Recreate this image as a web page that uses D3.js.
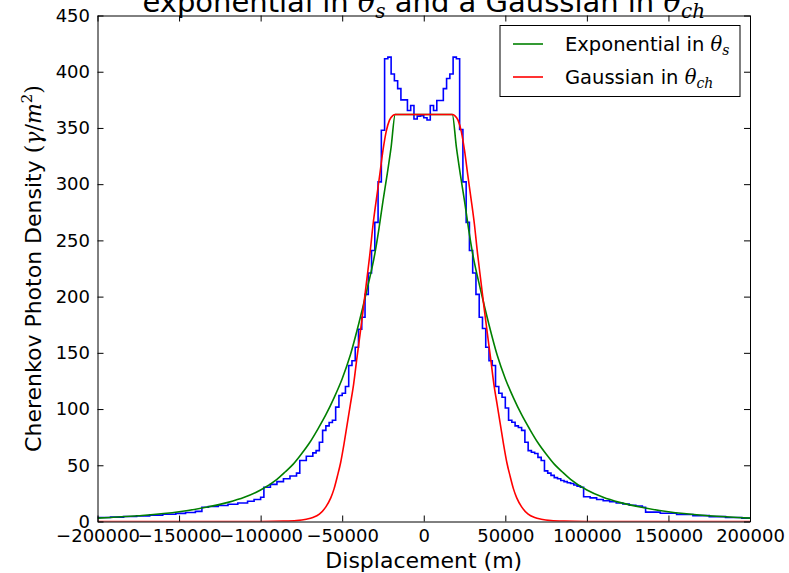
<!DOCTYPE html>
<html>
<head>
<meta charset="utf-8">
<script src="https://cdn.jsdelivr.net/npm/d3@7"></script>
<style>
  body { margin: 0; background: #fff; }
  svg text { font-family: "DejaVu Sans", sans-serif; fill: #000; }
  .math { font-family: "DejaVu Serif", serif; font-style: italic; }
  .axis path, .axis line { stroke: #000; stroke-width: 1; }
</style>
</head>
<body>
<svg id="chart" width="789" height="573"></svg>
<script>
// Histogram of simulated photon density: left edge of each step (m) and its height
const histX = [-200000, -192000, -184000, -176000, -168000, -160000, -152000, -146000, -140000, -136000,
  -132000, -126000, -120000, -114000, -108000, -104000, -100000, -98000, -94000, -90000,
  -86000, -82000, -78000, -76000, -72000, -68000, -66000, -64000, -62000, -60000,
  -58000, -56000, -54000, -52000, -50000, -48000, -46000, -44000, -42000, -40000,
  -38000, -36000, -34000, -32000, -30000, -28000, -26000, -24000, -22000, -20000,
  -18000, -16000, -14000, -12000, -10000, -8000, -6000, -4000, -2000, 0,
  2000, 4000, 6000, 8000, 10000, 12000, 14000, 16000, 18000, 20000,
  22000, 24000, 26000, 28000, 30000, 32000, 34000, 36000, 38000, 40000,
  42000, 44000, 46000, 48000, 50000, 52000, 54000, 56000, 58000, 60000,
  62000, 64000, 66000, 68000, 70000, 72000, 74000, 76000, 78000, 80000,
  82000, 84000, 86000, 88000, 90000, 92000, 94000, 96000, 98000, 102000,
  106000, 110000, 114000, 118000, 122000, 126000, 130000, 134000, 136000, 145000,
  155000, 165000, 175000, 185000, 195000, 200000];
const histY = [3.5, 3.9, 4.4, 5.0, 5.7, 6.4, 7.2, 8.0, 9.0, 12.7,
  13.3, 14.2, 15.3, 16.5, 18.0, 19.5, 21.5, 30.5, 33.0, 35.5,
  38.0, 40.5, 43.0, 54.2, 58.0, 61.0, 63.0, 70.5, 81.0, 85.0,
  88.0, 90.0, 101.7, 112.0, 114.0, 120.0, 138.7, 143.0, 155.0, 171.0,
  181.7, 202.0, 221.0, 241.0, 266.0, 302.0, 348.0, 411.5, 413.0, 398.0,
  392.0, 385.0, 375.0, 375.0, 365.5, 370.0, 358.0, 360.5, 361.0, 359.0,
  357.0, 370.0, 365.5, 374.4, 374.4, 385.0, 394.0, 398.0, 413.0, 411.5,
  348.6, 302.0, 266.0, 241.0, 221.0, 202.0, 181.7, 171.6, 155.0, 143.0,
  138.7, 120.0, 114.0, 110.5, 101.0, 90.0, 88.3, 85.0, 83.6, 81.0,
  70.5, 63.0, 61.6, 60.5, 57.0, 54.2, 45.0, 43.0, 41.0, 39.0,
  38.0, 36.5, 35.5, 34.5, 33.8, 32.5, 31.5, 30.5, 22.0, 21.0,
  19.5, 18.5, 17.5, 16.5, 15.5, 14.5, 13.8, 12.7, 8.3, 7.3,
  6.2, 5.2, 4.3, 3.5, 3.0, 3.0];

// Exponential-in-theta_s model
const greenX = [-200000, -175000, -150000, -135000, -120000, -110000, -100000, -90000, -85000, -80000,
  -75000, -70000, -65000, -60000, -55000, -50000, -45000, -40000, -35000, -30000,
  -27500, -25000, -22500, -20000, -17500, 17500, 20000, 22500, 25000, 27500,
  30000, 35000, 40000, 45000, 50000, 55000, 60000, 65000, 70000, 75000,
  80000, 85000, 90000, 100000, 110000, 120000, 135000, 150000, 175000, 200000];
const greenY = [3.0, 5.1, 8.6, 12.3, 17.0, 21.5, 28.0, 37.5, 44.0, 51.0,
  60.0, 70.0, 82.0, 95.0, 110.0, 127.0, 148.0, 175.0, 205.0, 238.0,
  260.0, 285.0, 308.0, 333.0, 362.0, 362.0, 333.0, 308.0, 285.0, 260.0,
  238.0, 205.0, 175.0, 148.0, 127.0, 110.0, 95.0, 82.0, 70.0, 60.0,
  51.0, 44.0, 37.5, 28.0, 21.5, 17.0, 12.3, 8.6, 5.1, 3.0];

// Gaussian-in-theta_ch model
const redX = [-200000, -120000, -100000, -86000, -78000, -72000, -68000, -64000, -60000, -57000,
  -55000, -53000, -51000, -49000, -47000, -45000, -43000, -41000, -39000, -37000,
  -35000, -33000, -31000, -29000, -27000, -25000, -23000, -21000, -19000, -17500,
  17500, 19000, 21000, 23000, 25000, 27000, 29000, 31000, 33000, 35000,
  37000, 39000, 41000, 43000, 45000, 47000, 49000, 51000, 53000, 55000,
  57000, 60000, 64000, 68000, 72000, 78000, 86000, 100000, 120000, 200000];
const redY = [0, 0, 0.05, 0.3, 0.8, 2, 3.5, 6.5, 13, 21,
  29, 40, 52, 68, 86, 104, 122, 145, 167, 190,
  214, 238, 265, 287, 308, 330, 347, 357, 361, 362,
  362, 361, 357, 347, 330, 308, 287, 265, 238, 214,
  190, 167, 145, 122, 104, 86, 68, 52, 40, 29,
  21, 13, 6.5, 3.5, 2, 0.8, 0.3, 0.05, 0, 0];

const xTicks = [-200000, -150000, -100000, -50000, 0, 50000, 100000, 150000, 200000];
const yTicks = [0, 50, 100, 150, 200, 250, 300, 350, 400, 450];

const margin = { top: 15.5, right: 39, bottom: 51.5, left: 97.5 };
const W = 789, H = 573;
const width = W - margin.left - margin.right;
const height = H - margin.top - margin.bottom;

const svg = d3.select('#chart');
const chart = svg.append('g')
  .attr('transform', `translate(${margin.left},${margin.top})`);

const xScale = d3.scaleLinear().domain([-200000, 200000]).range([0, width]);
const yScale = d3.scaleLinear().domain([0, 450]).range([height, 0]);

chart.append('defs').append('clipPath').attr('id', 'plotclip')
  .append('rect').attr('width', width).attr('height', height);

const zip = (xs, ys) => xs.map((x, i) => [x, ys[i]]);

const line = d3.line()
  .x(d => xScale(d[0]))
  .y(d => yScale(d[1]));

const plot = chart.append('g').attr('clip-path', 'url(#plotclip)');

plot.append('path')
  .datum(zip(histX, histY))
  .attr('fill', 'none')
  .attr('stroke', '#0000ff')
  .attr('stroke-width', 1.6)
  .attr('d', line.curve(d3.curveStepAfter));

plot.append('path')
  .datum(zip(greenX, greenY))
  .attr('fill', 'none')
  .attr('stroke', '#008000')
  .attr('stroke-width', 1.6)
  .attr('d', line.curve(d3.curveMonotoneX));

plot.append('path')
  .datum(zip(redX, redY))
  .attr('fill', 'none')
  .attr('stroke', '#ff0000')
  .attr('stroke-width', 1.6)
  .attr('d', line.curve(d3.curveMonotoneX));

// Axes, ticks pointing inward on all four sides
const tick = 6;
const xAxis = d3.axisBottom(xScale).tickValues(xTicks).tickSizeInner(-tick).tickSizeOuter(0).tickPadding(8).tickFormat(d3.format('d'));
const yAxis = d3.axisLeft(yScale).tickValues(yTicks).tickSizeInner(-tick).tickSizeOuter(0).tickPadding(7.5);

chart.append('g').attr('class', 'axis')
  .attr('transform', `translate(0,${height})`).call(xAxis);
chart.append('g').attr('class', 'axis').call(yAxis);
chart.append('g').attr('class', 'axis')
  .call(d3.axisTop(xScale).tickValues(xTicks).tickSizeInner(-tick).tickSizeOuter(0).tickFormat(''));
chart.append('g').attr('class', 'axis')
  .attr('transform', `translate(${width},0)`)
  .call(d3.axisRight(yScale).tickValues(yTicks).tickSizeInner(-tick).tickSizeOuter(0).tickFormat(''));

chart.selectAll('.axis text')
  .style('font-size', '18px')
  .style('font-family', '"DejaVu Sans", sans-serif')
  .attr('fill', '#000');

// Title (only its lower part fits the image)
const title = svg.append('text')
  .attr('x', margin.left + width / 2)
  .attr('y', 12)
  .attr('text-anchor', 'middle')
  .style('font-size', '29px');
title.append('tspan').text('exponential in ');
title.append('tspan').attr('class', 'math').text('θ');
title.append('tspan').attr('class', 'math').attr('dy', 6).style('font-size', '20px').text('s');
title.append('tspan').attr('dy', -6).text(' and a Gaussian in ');
title.append('tspan').attr('class', 'math').text('θ');
title.append('tspan').attr('class', 'math').attr('dy', 6).style('font-size', '20px').text('ch');

// Axis titles
svg.append('text')
  .attr('x', margin.left + width / 2)
  .attr('y', 568)
  .attr('text-anchor', 'middle')
  .style('font-size', '22px')
  .text('Displacement (m)');

const yTitle = svg.append('text')
  .attr('transform', `translate(41,${margin.top + height / 2}) rotate(-90)`)
  .attr('text-anchor', 'middle')
  .style('font-size', '22px');
yTitle.append('tspan').text('Cherenkov Photon Density ');
yTitle.append('tspan').style('font-family', '"DejaVu Serif", serif').text('(');
yTitle.append('tspan').attr('class', 'math').text('γ');
yTitle.append('tspan').style('font-family', '"DejaVu Serif", serif').text('/');
yTitle.append('tspan').attr('class', 'math').text('m');
yTitle.append('tspan').style('font-family', '"DejaVu Serif", serif').style('font-size', '15px').attr('dy', -9).text('2');
yTitle.append('tspan').style('font-family', '"DejaVu Serif", serif').attr('dy', 9).text(')');

// Legend
const legend = svg.append('g').attr('transform', 'translate(500,25.5)');
legend.append('rect')
  .attr('width', 240).attr('height', 71)
  .attr('fill', '#fff').attr('stroke', '#000').attr('stroke-width', 1);

const legendItems = [
  { color: '#008000', label: 'Exponential in ', sub: 's' },
  { color: '#ff0000', label: 'Gaussian in ', sub: 'ch' }
];
legendItems.forEach((d, i) => {
  const y = 18.5 + i * 33;
  legend.append('line')
    .attr('x1', 13).attr('x2', 43).attr('y1', y).attr('y2', y)
    .attr('stroke', d.color).attr('stroke-width', 1.6);
  const t = legend.append('text')
    .attr('x', 65).attr('y', y + 7)
    .style('font-size', '19.5px');
  t.append('tspan').text(d.label);
  t.append('tspan').attr('class', 'math').text('θ');
  t.append('tspan').attr('class', 'math').attr('dy', 4).style('font-size', '14px').text(d.sub);
});
</script>
</body>
</html>
